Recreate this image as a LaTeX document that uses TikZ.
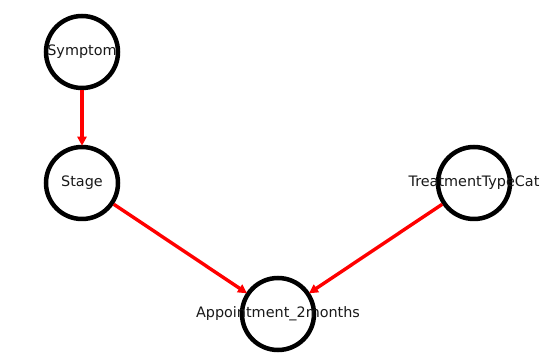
\documentclass[tikz,border=0pt]{standalone}
\usepackage{fontspec}
\setmainfont{DejaVu Sans}
\usetikzlibrary{arrows.meta}
\begin{document}
\begin{tikzpicture}[x=1pt,y=1pt,
  var/.style={circle, draw=black, fill=white, line width=4.5pt, minimum size=72pt, inner sep=0pt},
  lbl/.style={inner sep=0pt, text=black!90, font=\fontsize{14.4}{16}\selectfont},
  edge/.style={draw=red, line width=3.4pt, -{Triangle[length=9pt,width=9pt]}, shorten >=-1pt}]
\useasboundingbox (0,0) rectangle (547,356);
\node[var] (symptom) at (82,304) {};
\node[var] (stage) at (82,173) {};
\node[var] (treat) at (474,173) {};
\node[var] (appt) at (278,42) {};
\node[lbl] (symptomL) at (symptom) {Symptom};
\node[lbl] (stageL) at (stage) {Stage};
\node[lbl] (treatL) at (treat) {TreatmentTypeCat};
\node[lbl] (apptL) at (appt) {Appointment\_2months};
\draw[edge] (symptom) -- (stage);
\draw[edge] (stage) -- (appt);
\draw[edge] (treat) -- (appt);
\end{tikzpicture}
\end{document}
